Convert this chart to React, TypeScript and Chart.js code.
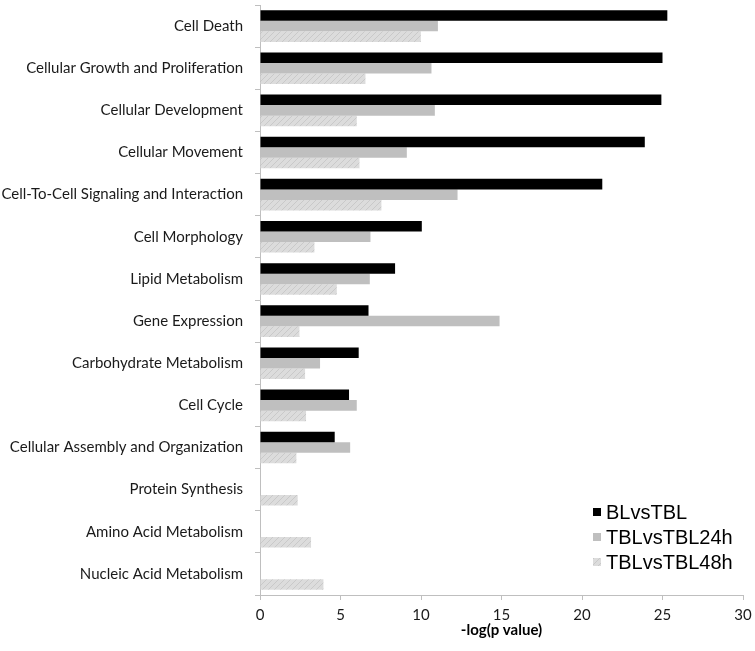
import React, { useEffect, useRef } from "react";
import { Chart, registerables } from "chart.js";

Chart.register(...registerables);

const categories = [
  "Cell Death",
  "Cellular Growth and Proliferation",
  "Cellular Development",
  "Cellular Movement",
  "Cell-To-Cell Signaling and Interaction",
  "Cell Morphology",
  "Lipid Metabolism",
  "Gene Expression",
  "Carbohydrate Metabolism",
  "Cell Cycle",
  "Cellular Assembly and Organization",
  "Protein Synthesis",
  "Amino Acid Metabolism",
  "Nucleic Acid Metabolism",
];

const seriesNames = ["BLvsTBL", "TBLvsTBL24h", "TBLvsTBL48h"];

const blVsTbl = [25.3, 25.0, 24.93, 23.9, 21.26, 10.05, 8.39, 6.74, 6.13, 5.53, 4.64, null, null, null];
const tblVsTbl24h = [11.05, 10.65, 10.86, 9.12, 12.27, 6.86, 6.82, 14.88, 3.73, 6.01, 5.6, null, null, null];
const tblVsTbl48h = [9.99, 6.55, 6.01, 6.18, 7.54, 3.38, 4.77, 2.45, 2.8, 2.86, 2.26, 2.34, 3.17, 3.94];

const xMin = 0;
const xMax = 30;
const xStep = 5;
const xTitle = "-log(p value)";

const FONT = "Lato, 'Open Sans', sans-serif";

function makeHatch(): CanvasPattern | string {
  const c = document.createElement("canvas");
  c.width = 6;
  c.height = 6;
  const ctx = c.getContext("2d");
  if (!ctx) return "#d9d9d9";
  ctx.fillStyle = "#dcdcdc";
  ctx.fillRect(0, 0, 6, 6);
  ctx.strokeStyle = "#c9c9c9";
  ctx.lineWidth = 1;
  ctx.beginPath();
  ctx.moveTo(-1, 7);
  ctx.lineTo(7, -1);
  ctx.moveTo(-1, 1);
  ctx.lineTo(1, -1);
  ctx.moveTo(5, 7);
  ctx.lineTo(7, 5);
  ctx.stroke();
  return ctx.createPattern(c, "repeat") || "#d9d9d9";
}

const legendPlugin = {
  id: "customLegend",
  afterDraw(chart: any) {
    const ctx = chart.ctx;
    const area = chart.chartArea;
    const x0 = area.right - 150;
    const y0 = area.bottom - 83;
    const gap = 25;
    ctx.save();
    ctx.font = "20px 'Liberation Sans', Arial, sans-serif";
    ctx.textBaseline = "middle";
    ctx.textAlign = "left";
    chart.data.datasets.forEach((ds: any, i: number) => {
      const y = y0 + i * gap;
      ctx.fillStyle = ds.backgroundColor;
      ctx.fillRect(x0, y - 4, 8, 8);
      ctx.fillStyle = "#000";
      ctx.fillText(ds.label, x0 + 13, y + 1);
    });
    ctx.restore();
  },
};

export default function App() {
  const ref = useRef<HTMLCanvasElement | null>(null);

  useEffect(() => {
    document.body.style.margin = "0";
    const canvas = ref.current;
    if (!canvas) return;
    const hatch = makeHatch();
    const chart = new Chart(canvas, {
      type: "bar",
      data: {
        labels: categories,
        datasets: [
          { label: seriesNames[0], data: blVsTbl, backgroundColor: "#000000", borderWidth: 0 },
          { label: seriesNames[1], data: tblVsTbl24h, backgroundColor: "#bfbfbf", borderWidth: 0 },
          { label: seriesNames[2], data: tblVsTbl48h, backgroundColor: hatch as any, borderWidth: 0 },
        ],
      },
      options: {
        indexAxis: "y",
        responsive: false,
        animation: false,
        maintainAspectRatio: false,
        layout: { padding: { left: 0, right: 12, top: 5, bottom: 0 } },
        datasets: { bar: { categoryPercentage: 0.75, barPercentage: 1.0 } },
        plugins: {
          legend: { display: false },
          tooltip: { enabled: false },
        },
        scales: {
          x: {
            type: "linear",
            min: xMin,
            max: xMax,
            ticks: {
              stepSize: xStep,
              color: "#1a1a1a",
              font: { family: FONT, size: 15 },
              padding: 6,
            },
            grid: { drawOnChartArea: false, drawTicks: true, tickLength: 5, color: "#bfbfbf" },
            border: { color: "#bfbfbf", width: 1 },
            title: {
              display: true,
              text: xTitle,
              color: "#000",
              font: { family: FONT, size: 15, weight: "bold" },
              padding: { top: 0, bottom: 12 },
            },
            afterFit(scale: any) {
              scale.height = 56;
              scale.paddingLeft = 0;
              scale.paddingRight = 0;
            },
          },
          y: {
            type: "category",
            ticks: {
              autoSkip: false,
              color: "#1a1a1a",
              font: { family: FONT, size: 15 },
              padding: 12,
            },
            grid: { drawOnChartArea: false, drawTicks: true, tickLength: 5, color: "#bfbfbf", offset: true },
            border: { color: "#bfbfbf", width: 1 },
            afterFit(scale: any) {
              scale.width = 260;
              scale.paddingTop = 0;
              scale.paddingBottom = 0;
            },
          },
        },
      },
      plugins: [legendPlugin],
    } as any);
    return () => chart.destroy();
  }, []);

  return <canvas ref={ref} width={755} height={651} style={{ display: "block" }} />;
}
